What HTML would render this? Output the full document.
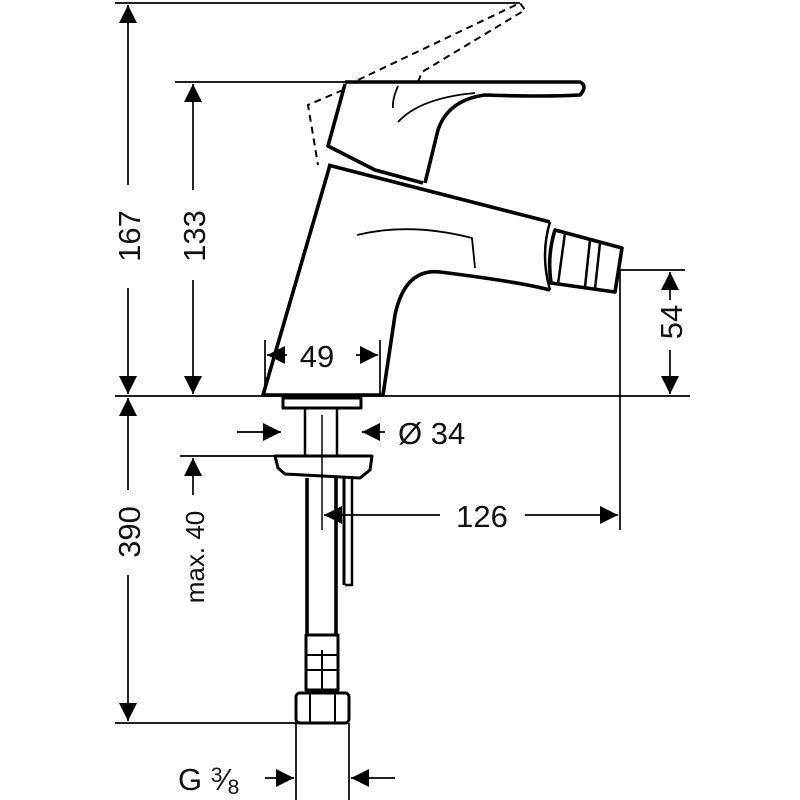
<!DOCTYPE html>
<html><head><style>body{margin:0;background:#fff}svg{display:block}text{font-family:"Liberation Sans",sans-serif;font-size:31px;fill:#111}</style></head>
<body>
<svg width="800" height="800" viewBox="0 0 800 800" xmlns="http://www.w3.org/2000/svg">
<defs>
<marker id="a" viewBox="0 0 10 10" refX="10" refY="5" markerWidth="22" markerHeight="18" markerUnits="userSpaceOnUse" orient="auto"><path d="M0,0L10,5L0,10z" fill="#000"/></marker>
</defs>
<g stroke="#000" stroke-width="1.7" fill="none">
<line x1="115" y1="3" x2="520" y2="3"/>
<line x1="175" y1="82" x2="345" y2="82"/>
<line x1="115" y1="396" x2="690" y2="396"/>
<line x1="115" y1="723" x2="300" y2="723"/>
<line x1="180" y1="456" x2="275" y2="456"/>
<line x1="620" y1="270" x2="685" y2="270"/>
<line x1="620" y1="270" x2="620" y2="530"/>
<line x1="296" y1="723" x2="296" y2="800"/>
<line x1="349" y1="723" x2="349" y2="800"/>
<line x1="265" y1="340" x2="265" y2="396"/>
<line x1="380" y1="340" x2="380" y2="396"/>
<line x1="128" y1="185" x2="128" y2="5" marker-end="url(#a)"/>
<line x1="128" y1="288" x2="128" y2="394" marker-end="url(#a)"/>
<line x1="193" y1="190" x2="193" y2="84" marker-end="url(#a)"/>
<line x1="193" y1="280" x2="193" y2="394" marker-end="url(#a)"/>
<line x1="128" y1="490" x2="128" y2="398" marker-end="url(#a)"/>
<line x1="128" y1="575" x2="128" y2="721" marker-end="url(#a)"/>
<line x1="193" y1="495" x2="193" y2="458" marker-end="url(#a)"/>
<line x1="670" y1="300" x2="670" y2="272" marker-end="url(#a)"/>
<line x1="670" y1="350" x2="670" y2="394" marker-end="url(#a)"/>
<line x1="287" y1="355" x2="267" y2="355" marker-end="url(#a)"/>
<line x1="356" y1="355" x2="378" y2="355" marker-end="url(#a)"/>
<line x1="237" y1="432" x2="281" y2="432" marker-end="url(#a)"/>
<line x1="385" y1="432" x2="362" y2="432" marker-end="url(#a)"/>
<line x1="350" y1="515" x2="324" y2="515" marker-end="url(#a)"/>
<line x1="350" y1="515" x2="440" y2="515"/>
<line x1="525" y1="515" x2="618" y2="515" marker-end="url(#a)"/>
<line x1="265" y1="778" x2="294" y2="778" marker-end="url(#a)"/>
<line x1="395" y1="778" x2="351" y2="778" marker-end="url(#a)"/>
</g>
<g stroke="#000" stroke-width="2" fill="none" stroke-dasharray="7,5">
<path d="M358,80 L520,3 L525,10 L422,72 L418,82"/>
<path d="M343,90 L308,105 L318,165"/>
</g>
<g stroke="#000" stroke-width="3.6" fill="none" stroke-linejoin="round">
<path d="M345,82 L580,82 Q588,86 580,95 Q545,97 485,95 Q448,100 438,130 L425,183"/>
<path d="M345,84 L328,146 L375,170 L423,183"/>
<path d="M330,165 L263,395 L383,395 L395,315 Q405,268 440,272 Q520,282 550,290"/>
<path d="M328,165 L550,222"/>
<path d="M550,222 Q540,255 550,290" stroke-width="2.5"/>
<path d="M555,230 L622,248 L615,292 L551,283 Q547,255 555,230Z"/>
<line x1="565" y1="233" x2="558" y2="284" stroke-width="2.5"/>
<line x1="590" y1="240" x2="585" y2="287" stroke-width="2.5"/>
<line x1="600" y1="243" x2="595" y2="289" stroke-width="2.5"/>
<path d="M398,86 Q392,100 393,108" stroke-width="1.8"/>
<path d="M398,122 Q420,98 475,93" stroke-width="1.8"/>
<path d="M357,235 Q410,222 472,238 L475,268" stroke-width="1.8"/>
<rect x="283" y="398" width="78" height="10" stroke-width="3"/>
<line x1="305" y1="408" x2="305" y2="456" stroke-width="2.5"/>
<line x1="337" y1="408" x2="337" y2="456" stroke-width="2.5"/>
<line x1="322" y1="415" x2="322" y2="530" stroke-width="1.5"/>
<path d="M275,456 L372,456 L370,470 L360,478 L285,474 L278,468Z" stroke-width="3"/>
<line x1="307" y1="478" x2="307" y2="635"/>
<line x1="336" y1="478" x2="336" y2="635"/>
<line x1="344" y1="478" x2="344" y2="585" stroke-width="3"/>
<path d="M352,478 L352,585 L345,585" stroke-width="2.5"/>
<rect x="306" y="635" width="32" height="55" stroke-width="3"/>
<line x1="306" y1="655" x2="338" y2="655" stroke-width="2"/>
<line x1="306" y1="670" x2="338" y2="670" stroke-width="2"/>
<line x1="322" y1="650" x2="322" y2="690" stroke-width="2"/>
<rect x="296" y="693" width="53" height="30" rx="4" stroke-width="3"/>
<line x1="310" y1="693" x2="310" y2="723" stroke-width="2"/>
<line x1="335" y1="693" x2="335" y2="723" stroke-width="2"/>
</g>
<text transform="translate(140,236) rotate(-90)" text-anchor="middle">167</text>
<text transform="translate(205,236) rotate(-90)" text-anchor="middle">133</text>
<text transform="translate(140,532) rotate(-90)" text-anchor="middle">390</text>
<text transform="translate(204,557) rotate(-90)" text-anchor="middle" style="font-size:26px">max. 40</text>
<text transform="translate(682,322) rotate(-90)" text-anchor="middle">54</text>
<text x="317" y="367" text-anchor="middle">49</text>
<text x="398" y="444">Ø 34</text>
<text x="482" y="527" text-anchor="middle">126</text>
<text x="178" y="790">G <tspan font-size="21" dy="-8">3</tspan><tspan dy="8">⁄</tspan><tspan font-size="21" dy="4">8</tspan></text>
</svg>
</body></html>
